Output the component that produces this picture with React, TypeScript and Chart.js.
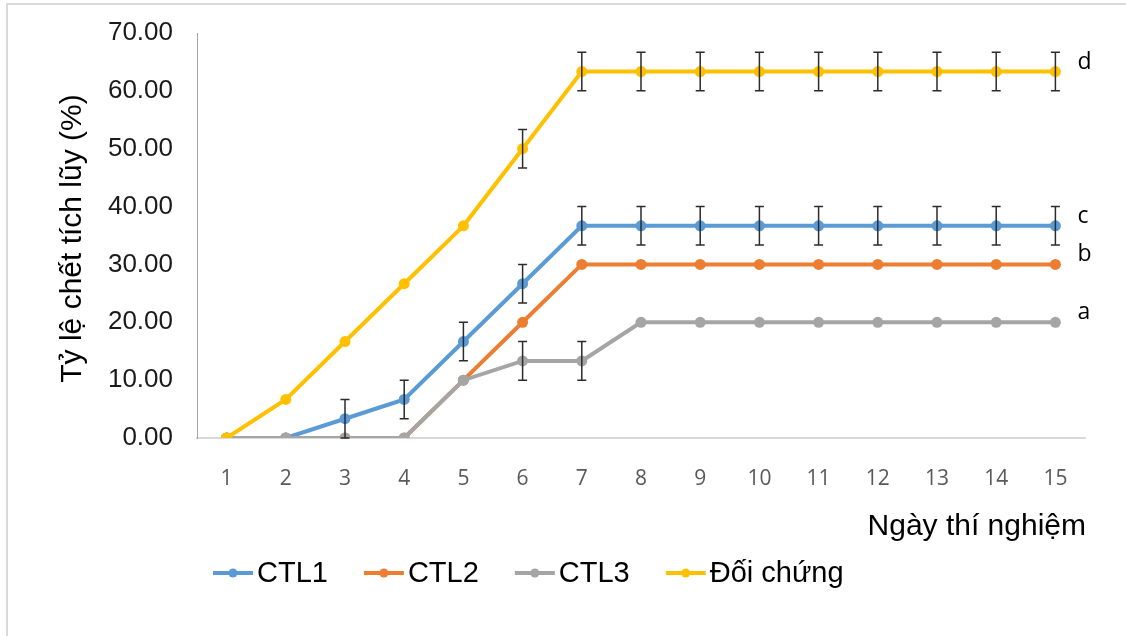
import React, { useEffect, useRef } from 'react';
import { Chart, registerables } from 'chart.js';

Chart.register(...registerables);

// ---- data ----
const days = ['1', '2', '3', '4', '5', '6', '7', '8', '9', '10', '11', '12', '13', '14', '15'];
const ctl1 = [0, 0, 3.33, 6.67, 16.67, 26.67, 36.67, 36.67, 36.67, 36.67, 36.67, 36.67, 36.67, 36.67, 36.67];
const ctl2 = [0, 0, 0, 0, 10, 20, 30, 30, 30, 30, 30, 30, 30, 30, 30];
const ctl3 = [0, 0, 0, 0, 10, 13.33, 13.33, 20, 20, 20, 20, 20, 20, 20, 20];
const doiChung = [0, 6.67, 16.67, 26.67, 36.67, 50, 63.33, 63.33, 63.33, 63.33, 63.33, 63.33, 63.33, 63.33, 63.33];

const errCtl1 = [null, null, 3.33, 3.33, 3.33, 3.33, 3.33, 3.33, 3.33, 3.33, 3.33, 3.33, 3.33, 3.33, 3.33];
const errCtl2 = [null, null, null, null, null, null, null, null, null, null, null, null, null, null, null];
const errCtl3 = [null, null, null, null, null, 3.33, 3.33, null, null, null, null, null, null, null, null];
const errDoiChung = [null, null, null, null, null, 3.33, 3.33, 3.33, 3.33, 3.33, 3.33, 3.33, 3.33, 3.33, 3.33];

const seriesNames = ['CTL1', 'CTL2', 'CTL3', 'Đối chứng'];
const sigLetters = ['c', 'b', 'a', 'd'];
const yTickLabels = ['0.00', '10.00', '20.00', '30.00', '40.00', '50.00', '60.00', '70.00'];
const yTitle = 'Tỷ lệ chết tích lũy (%)';
const xTitle = 'Ngày thí nghiệm';

const seriesValues = [ctl1, ctl2, ctl3, doiChung];
const seriesErrors = [errCtl1, errCtl2, errCtl3, errDoiChung];
const seriesColors = ['#5B9BD5', '#ED7D31', '#A5A5A5', '#FFC000'];

const errorBarPlugin = {
  id: 'errorBars',
  afterDatasetsDraw(chart: any) {
    const { ctx, scales } = chart;
    const xs = scales.x;
    const ys = scales.y;
    ctx.save();
    ctx.strokeStyle = '#2b2b2b';
    ctx.lineWidth = 1.5;
    seriesValues.forEach((vals, i) => {
      const errs = seriesErrors[i];
      vals.forEach((v, j) => {
        const e = errs[j];
        if (e == null) return;
        const x = xs.getPixelForValue(j);
        const yt = ys.getPixelForValue(v + e);
        const yb = ys.getPixelForValue(Math.max(0, v - e));
        ctx.beginPath();
        ctx.moveTo(x, yt);
        ctx.lineTo(x, yb);
        ctx.moveTo(x - 4.5, yt);
        ctx.lineTo(x + 4.5, yt);
        if (v - e >= 0) {
          ctx.moveTo(x - 4.5, yb);
          ctx.lineTo(x + 4.5, yb);
        }
        ctx.stroke();
      });
    });
    ctx.restore();
  },
};

const decorPlugin = {
  id: 'decor',
  afterDraw(chart: any) {
    const { ctx, scales, chartArea } = chart;
    const xs = scales.x;
    const ys = scales.y;
    ctx.save();
    // significance letters
    ctx.fillStyle = '#000';
    ctx.font = '23px "Open Sans"';
    ctx.textAlign = 'left';
    ctx.textBaseline = 'alphabetic';
    seriesValues.forEach((vals, i) => {
      const last = vals.length - 1;
      const x = xs.getPixelForValue(last) + 22;
      const y = ys.getPixelForValue(vals[last]) - 3;
      ctx.fillText(sigLetters[i], x, y);
    });
    // y title
    ctx.save();
    ctx.font = '30px "Liberation Sans"';
    ctx.fillStyle = '#000';
    ctx.textAlign = 'center';
    ctx.textBaseline = 'alphabetic';
    ctx.translate(81, (chartArea.top + chartArea.bottom) / 2 + 3);
    ctx.rotate(-Math.PI / 2);
    ctx.fillText(yTitle, 0, 0);
    ctx.restore();
    // x title
    ctx.font = '30px "Liberation Sans"';
    ctx.fillStyle = '#000';
    ctx.textAlign = 'right';
    ctx.textBaseline = 'alphabetic';
    ctx.fillText(xTitle, chartArea.right + 1, 535);
    // legend
    ctx.font = '29px "Liberation Sans"';
    ctx.textAlign = 'left';
    ctx.textBaseline = 'middle';
    let lx = 213;
    const ly = 573;
    seriesNames.forEach((name, i) => {
      ctx.strokeStyle = seriesColors[i];
      ctx.fillStyle = seriesColors[i];
      ctx.lineWidth = 4;
      ctx.beginPath();
      ctx.moveTo(lx, ly);
      ctx.lineTo(lx + 40, ly);
      ctx.stroke();
      ctx.beginPath();
      ctx.arc(lx + 20, ly, 4.5, 0, Math.PI * 2);
      ctx.fill();
      ctx.fillStyle = '#000';
      ctx.fillText(name, lx + 44, ly + 1);
      const w = ctx.measureText(name).width;
      lx = lx + 44 + w + 36;
    });
    ctx.restore();
  },
};

export default function App() {
  const ref = useRef<HTMLCanvasElement>(null);
  useEffect(() => {
    const canvas = ref.current;
    if (!canvas) return;
    const chart = new Chart(canvas, {
      type: 'line',
      data: {
        labels: days,
        datasets: seriesValues.map((vals, i) => ({
          label: seriesNames[i],
          data: vals,
          borderColor: seriesColors[i],
          backgroundColor: seriesColors[i],
          pointBackgroundColor: seriesColors[i],
          pointBorderColor: seriesColors[i],
          borderWidth: 4,
          pointRadius: 5.5,
          pointBorderWidth: 0,
          tension: 0,
          order: 4 - i,
        })),
      },
      options: {
        responsive: false,
        animation: false,
        layout: { padding: { left: 0, top: 33, right: 41, bottom: 0 } },
        plugins: { legend: { display: false }, tooltip: { enabled: false } },
        scales: {
          x: {
            offset: true,
            grid: { display: false, drawTicks: false },
            border: { display: true, color: '#d9d9d9', width: 2 },
            ticks: { color: '#595959', font: { family: 'Open Sans', size: 21 }, padding: 28, maxRotation: 0 },
            afterFit: (s: any) => { s.height = 198; },
          },
          y: {
            min: 0,
            max: 70,
            ticks: {
              stepSize: 10,
              color: '#1a1a1a',
              font: { family: 'Liberation Sans', size: 26 },
              padding: 24,
              callback: (_v: any, i: number) => yTickLabels[i],
            },
            grid: { display: false, drawTicks: false },
            border: { display: true, color: '#a6a6a6', width: 1 },
            afterFit: (s: any) => { s.width = 197; s.paddingTop = 0; s.paddingBottom = 0; },
          },
        },
      },
      plugins: [errorBarPlugin, decorPlugin],
    } as any);
    return () => chart.destroy();
  }, []);
  return (
    <div style={{ position: 'fixed', left: 0, top: 0, width: 1126, height: 636, background: '#fff', overflow: 'hidden' }}>
      <canvas ref={ref} width={1126} height={636} style={{ display: 'block' }} />
      <div style={{ position: 'absolute', left: 6, top: 3, width: 1200, height: 700, border: '2px solid #dadada', pointerEvents: 'none' }} />
    </div>
  );
}
